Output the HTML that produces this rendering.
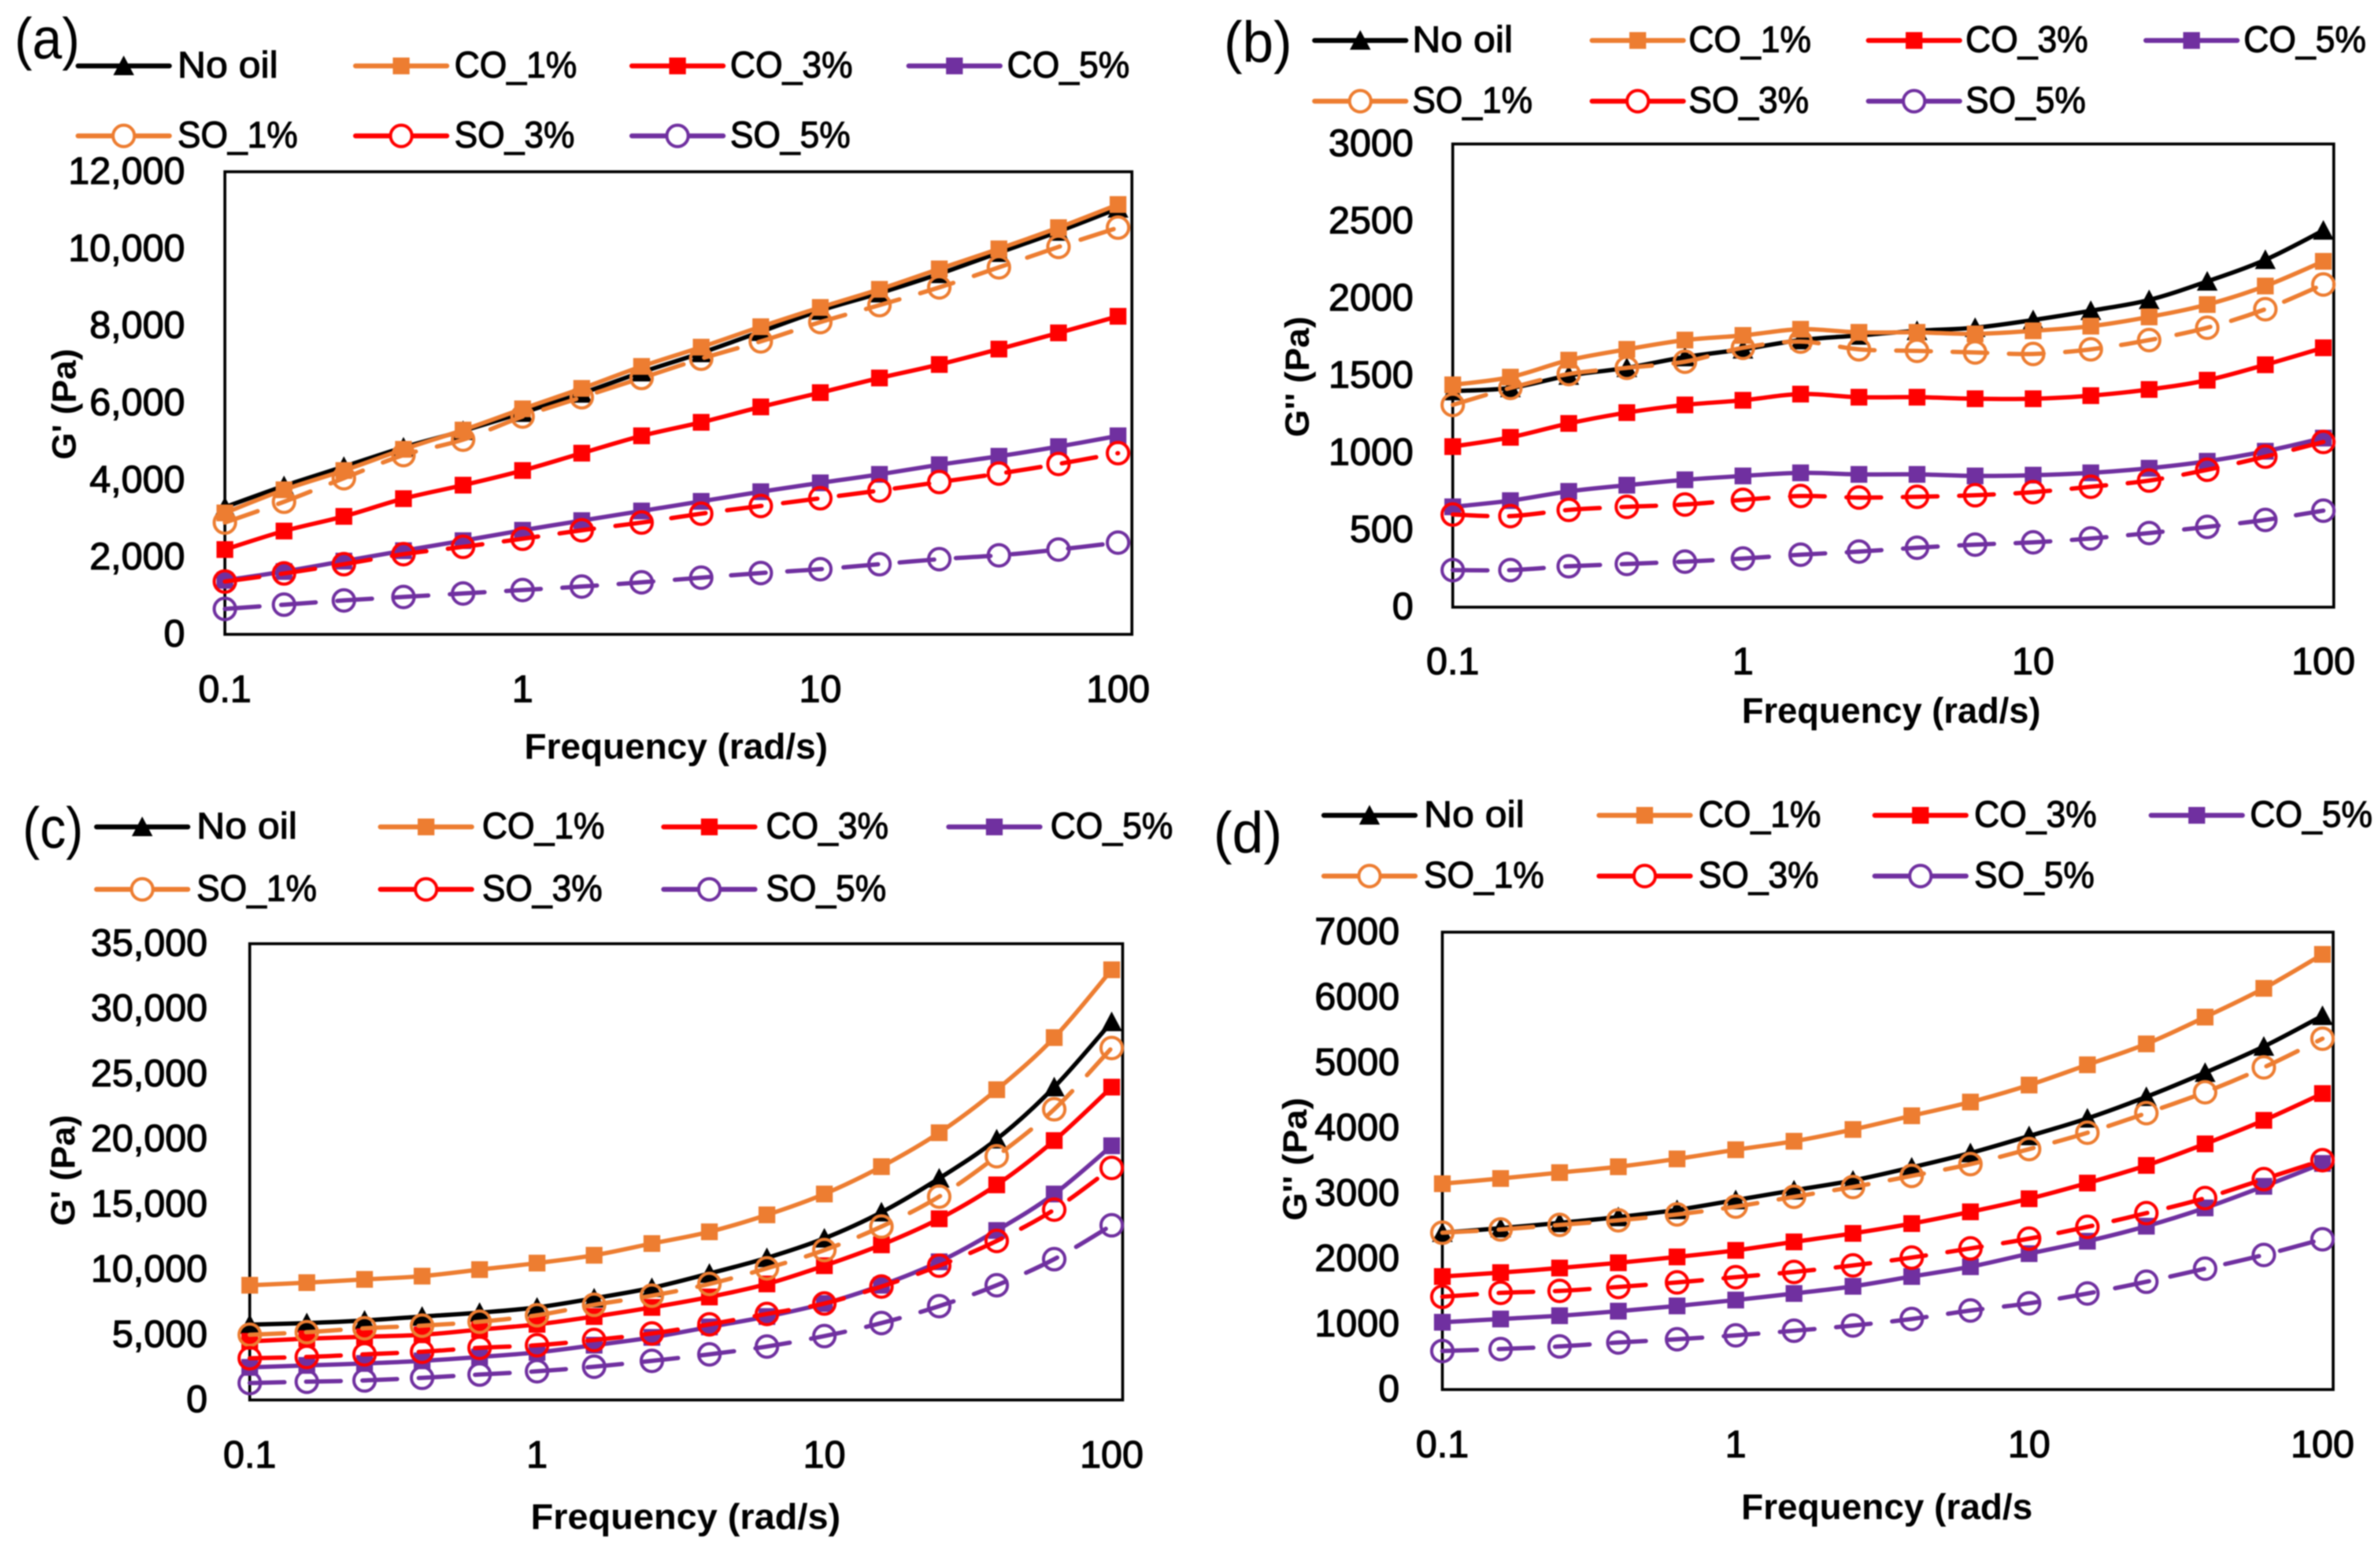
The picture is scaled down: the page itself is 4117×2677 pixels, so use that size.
<!DOCTYPE html>
<html lang="en">
<head>
<meta charset="utf-8">
<title>Rheology frequency sweeps</title>
<style>
html,body{margin:0;padding:0;background:#fff;}
svg{display:block;filter:blur(1.1px);}
text{font-family:"Liberation Sans",sans-serif;fill:#000;}
.tick{font-size:66px;stroke:#000;stroke-width:1.6;}
.legend{font-size:64px;stroke:#000;stroke-width:1.5;}
.xtitle{font-size:62px;font-weight:bold;}
.ytitle{font-size:58px;font-weight:bold;}
.plabel{font-size:100px;}
</style>
</head>
<body>
<svg xmlns="http://www.w3.org/2000/svg" width="4117" height="2677" viewBox="0 0 4117 2677">
  <rect width="4117" height="2677" fill="#fff"/>

  <g id="panel-a">
    <text class="plabel" x="25" y="101" textLength="113" lengthAdjust="spacingAndGlyphs">(a)</text>
    <text class="xtitle" x="907" y="1312" textLength="525" lengthAdjust="spacingAndGlyphs">Frequency (rad/s)</text>
    <text class="ytitle" transform="translate(131,795) rotate(-90)" textLength="192" lengthAdjust="spacingAndGlyphs">G' (Pa)</text>
  </g>
  <g id="panel-b">
    <text class="plabel" x="2117" y="107" textLength="118" lengthAdjust="spacingAndGlyphs">(b)</text>
    <text class="xtitle" x="3013" y="1250" textLength="517" lengthAdjust="spacingAndGlyphs">Frequency (rad/s)</text>
    <text class="ytitle" transform="translate(2264,756) rotate(-90)" textLength="209" lengthAdjust="spacingAndGlyphs">G'' (Pa)</text>
  </g>
  <g id="panel-c">
    <text class="plabel" x="39" y="1466" textLength="105" lengthAdjust="spacingAndGlyphs">(c)</text>
    <text class="xtitle" x="918" y="2644" textLength="536" lengthAdjust="spacingAndGlyphs">Frequency (rad/s)</text>
    <text class="ytitle" transform="translate(129,2120) rotate(-90)" textLength="192" lengthAdjust="spacingAndGlyphs">G' (Pa)</text>
  </g>
  <g id="panel-d">
    <text class="plabel" x="2099" y="1474" textLength="119" lengthAdjust="spacingAndGlyphs">(d)</text>
    <text class="xtitle" x="3012" y="2627" textLength="504" lengthAdjust="spacingAndGlyphs">Frequency (rad/s</text>
    <text class="ytitle" transform="translate(2260,2111) rotate(-90)" textLength="213" lengthAdjust="spacingAndGlyphs">G'' (Pa)</text>
  </g>
</svg>

<script>
// ---------- shared categories ----------
const frequencies = [0.1,0.158,0.251,0.398,0.631,1,1.58,2.51,3.98,6.31,10,15.8,25.1,39.8,63.1,100];
const xTickValues = [0.1,1,10,100];
const seriesNames = ['No oil','CO_1%','CO_3%','CO_5%','SO_1%','SO_3%','SO_5%'];

// ---------- panel (a) G' ----------
const aYTicks = [0,2000,4000,6000,8000,10000,12000];
const aNoOil = [3300,3850,4350,4850,5280,5750,6250,6800,7300,7850,8400,8850,9350,9900,10450,11050];
const aCO1 = [3150,3750,4250,4800,5300,5850,6380,6950,7450,7980,8480,8950,9480,10000,10550,11150];
const aCO3 = [2200,2680,3060,3520,3870,4250,4700,5150,5500,5900,6270,6650,7000,7400,7820,8250];
const aCO5 = [1400,1630,1900,2170,2430,2700,2950,3200,3450,3700,3930,4150,4400,4620,4870,5150];
const aSO1 = [2900,3440,4050,4650,5050,5650,6150,6650,7150,7600,8100,8540,9000,9520,10050,10550];
const aSO3 = [1370,1580,1820,2080,2270,2480,2700,2900,3130,3330,3530,3730,3950,4170,4420,4700];
const aSO5 = [660,770,880,970,1060,1150,1240,1350,1470,1590,1690,1820,1950,2050,2200,2380];

// ---------- panel (b) G'' ----------
const bYTicks = [0,500,1000,1500,2000,2500,3000];
const bNoOil = [1400,1420,1500,1550,1620,1670,1730,1760,1790,1810,1860,1920,1990,2110,2250,2440];
const bCO1 = [1440,1490,1600,1670,1730,1760,1800,1780,1780,1770,1790,1820,1880,1960,2080,2240];
const bCO3 = [1040,1100,1190,1260,1310,1340,1380,1360,1360,1350,1350,1370,1410,1470,1570,1680];
const bCO5 = [650,690,750,790,825,850,870,860,860,850,855,870,900,945,1010,1095];
const bSO1 = [1310,1420,1510,1550,1590,1680,1720,1670,1660,1650,1640,1670,1730,1810,1930,2090];
const bSO3 = [600,590,630,650,665,695,720,710,715,725,745,780,820,890,975,1070];
const bSO5 = [240,240,265,280,295,315,340,360,385,405,420,445,480,520,565,625];

// ---------- panel (c) G' ----------
const cYTicks = [0,5000,10000,15000,20000,25000,30000,35000];
const cNoOil = [5780,5900,6100,6400,6700,7100,7800,8600,9700,10900,12400,14400,17000,20000,24000,29000];
const cCO1 = [8800,9000,9250,9500,10000,10500,11100,12000,12900,14200,15800,17900,20500,23800,27800,33000];
const cCO3 = [4500,4700,4850,5000,5400,5800,6400,7100,7900,8900,10300,11900,13900,16500,19900,24000];
const cCO5 = [2500,2650,2800,3000,3300,3650,4200,4800,5600,6400,7400,8800,10600,13000,15800,19500];
const cSO1 = [5000,5200,5500,5700,6000,6500,7300,8000,8900,10100,11500,13300,15600,18700,22300,27000];
const cSO3 = [3200,3300,3500,3700,4000,4200,4600,5100,5800,6600,7400,8700,10300,12200,14600,17800];
const cSO5 = [1300,1400,1500,1700,1950,2200,2550,3000,3500,4100,4900,5900,7200,8800,10800,13400];

// ---------- panel (d) G'' ----------
const dYTicks = [0,1000,2000,3000,4000,5000,6000,7000];
const dNoOil = [2400,2470,2550,2640,2750,2900,3050,3200,3400,3620,3880,4150,4480,4850,5250,5720];
const dCO1 = [3150,3230,3320,3410,3530,3670,3800,3980,4190,4400,4660,4970,5290,5700,6140,6660];
const dCO3 = [1730,1790,1860,1940,2030,2130,2260,2390,2540,2720,2920,3160,3430,3760,4120,4530];
const dCO5 = [1030,1080,1130,1200,1280,1370,1470,1580,1730,1880,2080,2270,2500,2780,3110,3460];
const dSO1 = [2400,2450,2520,2590,2680,2800,2950,3100,3270,3450,3680,3930,4230,4550,4930,5370];
const dSO3 = [1420,1480,1510,1570,1640,1720,1800,1900,2020,2160,2310,2490,2700,2930,3220,3510];
const dSO5 = [590,620,660,720,770,830,900,980,1080,1210,1320,1470,1650,1850,2060,2300];

// ---------- layout and styling (not data) ----------
const seriesStyle = [
  {color:'#000000', marker:'triangle', dashed:false, labelWidth:174},
  {color:'#ED7D31', marker:'square', dashed:false, labelWidth:212},
  {color:'#FF0000', marker:'square', dashed:false, labelWidth:212},
  {color:'#7030A0', marker:'square', dashed:false, labelWidth:212},
  {color:'#ED7D31', marker:'circle', dashed:true, labelWidth:208},
  {color:'#FF0000', marker:'circle', dashed:true, labelWidth:208},
  {color:'#7030A0', marker:'circle', dashed:true, labelWidth:208}
];
const panelLayouts = [
  {id:'panel-a', left:389, right:1958, top:297, bottom:1097, decade:515, tickRight:320, xLabelY:1214, comma:true,
   ticks:aYTicks, values:[aNoOil,aCO1,aCO3,aCO5,aSO1,aSO3,aSO5],
   legendLine:[135,615,1093,1572], legendText:[307,786,1263,1742], legendRows:[114,235]},
  {id:'panel-b', left:2513, right:4037, top:249, bottom:1050, decade:502, tickRight:2445, xLabelY:1166, comma:false,
   ticks:bYTicks, values:[bNoOil,bCO1,bCO3,bCO5,bSO1,bSO3,bSO5],
   legendLine:[2274,2754,3232,3712], legendText:[2443,2921,3400,3881], legendRows:[70,175]},
  {id:'panel-c', left:432, right:1942, top:1632, bottom:2421, decade:497, tickRight:359, xLabelY:2538, comma:true,
   ticks:cYTicks, values:[cNoOil,cCO1,cCO3,cCO5,cSO1,cSO3,cSO5],
   legendLine:[167,658,1148,1641], legendText:[340,834,1325,1817], legendRows:[1430,1538]},
  {id:'panel-d', left:2495, right:4036, top:1612, bottom:2403, decade:507.5, tickRight:2421, xLabelY:2520, comma:false,
   ticks:dYTicks, values:[dNoOil,dCO1,dCO3,dCO5,dSO1,dSO3,dSO5],
   legendLine:[2290,2766,3243,3721], legendText:[2463,2938,3415,3892], legendRows:[1410,1515]}
];
const NS = 'http://www.w3.org/2000/svg';
const LINE_W = 7.5, LEGEND_LINE = 158;

function make(tag, attrs, parent){
  const el = document.createElementNS(NS, tag);
  for (const k in attrs) el.setAttribute(k, attrs[k]);
  parent.appendChild(el);
  return el;
}
function smoothPath(pts){
  let d = 'M' + pts[0][0].toFixed(1) + ' ' + pts[0][1].toFixed(1);
  for (let i = 0; i < pts.length - 1; i++){
    const p0 = pts[Math.max(i-1,0)], p1 = pts[i], p2 = pts[i+1], p3 = pts[Math.min(i+2,pts.length-1)];
    const c1x = p1[0] + (p2[0]-p0[0])/6, c1y = p1[1] + (p2[1]-p0[1])/6;
    const c2x = p2[0] - (p3[0]-p1[0])/6, c2y = p2[1] - (p3[1]-p1[1])/6;
    d += ' C' + c1x.toFixed(1) + ' ' + c1y.toFixed(1) + ' ' + c2x.toFixed(1) + ' ' + c2y.toFixed(1) + ' ' + p2[0].toFixed(1) + ' ' + p2[1].toFixed(1);
  }
  return d;
}
function drawMarker(parent, kind, cx, cy, color, filled){
  let m;
  if (kind === 'triangle'){
    m = make('polygon', {points:(cx-18)+','+(cy+16)+' '+cx+','+(cy-18)+' '+(cx+18)+','+(cy+16), fill:color}, parent);
  } else if (kind === 'square'){
    m = make('rect', {x:cx-14.5, y:cy-14.5, width:29, height:29, fill:color}, parent);
  } else {
    m = make('circle', {cx:cx, cy:cy, r:18.5, fill:filled ? '#fff' : 'none', stroke:color, 'stroke-width':5.5}, parent);
  }
  return m;
}

panelLayouts.forEach(function(p){
  const group = document.getElementById(p.id);
  const yMax = p.ticks[p.ticks.length-1];
  const xScale = function(f){ return p.left + (Math.log10(f) - Math.log10(frequencies[0])) * p.decade; };
  const yScale = function(v){ return p.bottom - (v / yMax) * (p.bottom - p.top); };

  // plot frame
  const frame = make('rect', {x:p.left, y:p.top, width:p.right-p.left, height:p.bottom-p.top, fill:'none', stroke:'#000', 'stroke-width':5}, group);
  
  

  // y tick labels
  p.ticks.forEach(function(t){
    const label = p.comma ? t.toLocaleString('en-US') : String(t);
    const el = make('text', {class:'tick', x:p.tickRight, y:yScale(t)+21, 'text-anchor':'end'}, group);
    el.textContent = label;
    
    
  });

  // x tick labels
  xTickValues.forEach(function(t){
    const el = make('text', {class:'tick', x:xScale(t), y:p.xLabelY, 'text-anchor':'middle'}, group);
    el.textContent = String(t);
    
    
  });

  // series
  p.values.forEach(function(vals, s){
    const st = seriesStyle[s];
    const pts = vals.map(function(v, i){ return [xScale(frequencies[i]), yScale(v)]; });
    const attrs = {d:smoothPath(pts), fill:'none', stroke:st.color, 'stroke-width':LINE_W, 'stroke-linecap':'round', 'stroke-linejoin':'round'};
    if (st.dashed) attrs['stroke-dasharray'] = '60 37.5';
    const line = make('path', attrs, group);
    
    
    pts.forEach(function(pt){
      const mk = drawMarker(group, st.marker, pt[0], pt[1], st.color, false);
      
      
    });
  });

  // legend
  seriesNames.forEach(function(name, s){
    const st = seriesStyle[s];
    const row = s < 4 ? 0 : 1;
    const col = s < 4 ? s : s - 4;
    const ly = p.legendRows[row];
    const lx = p.legendLine[col];
    const entry = make('g', {}, group);
    
    
    const key = make('line', {x1:lx, y1:ly, x2:lx+LEGEND_LINE, y2:ly, stroke:st.color, 'stroke-width':LINE_W+1, 'stroke-linecap':'round'}, entry);
    
    
    const km = drawMarker(entry, st.marker, lx+LEGEND_LINE/2, ly, st.color, true);
    
    
    const tx = make('text', {class:'legend', x:p.legendText[col], y:ly+20, textLength:st.labelWidth, lengthAdjust:'spacingAndGlyphs'}, entry);
    tx.textContent = name;
    
    
  });
});
</script>
</body>
</html>
